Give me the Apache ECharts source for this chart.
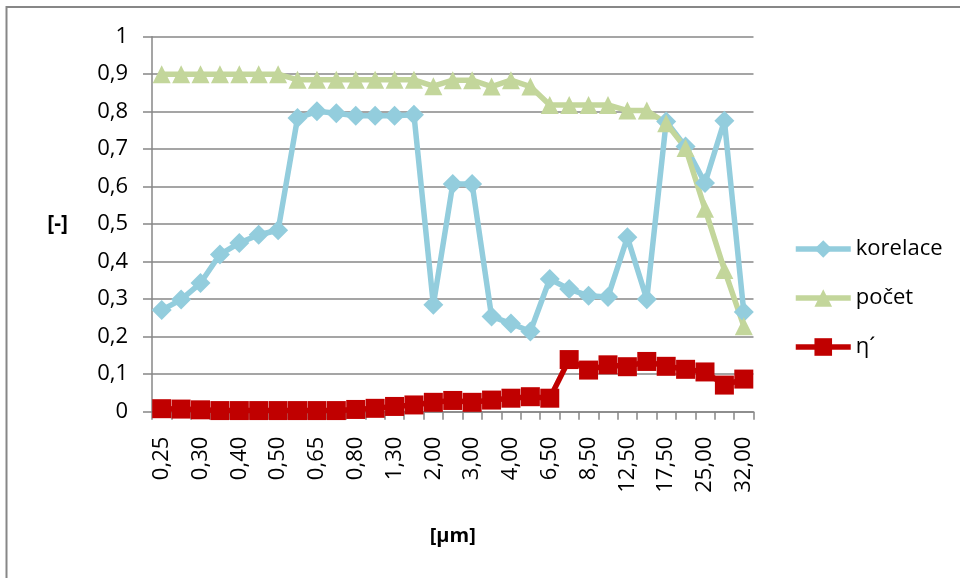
<!DOCTYPE html>
<html>
<head>
<meta charset="utf-8">
<script src="https://cdn.jsdelivr.net/npm/echarts@6/dist/echarts.min.js"></script>
<style>
  html, body { margin: 0; padding: 0; background: #fff; }
  #chart { width: 960px; height: 578px; }
</style>
</head>
<body>
<div id="chart"></div>
<script>
// Particle size channels [µm]
const categories = ['0,25','0,28','0,30','0,35','0,40','0,45','0,50','0,58','0,65','0,70','0,80','1,00','1,30','1,60','2,00','2,50','3,00','3,50','4,00','5,00','6,50','7,50','8,50','10,00','12,50','15,00','17,50','20,00','25,00','30,00','32,00'];

const korelace = [0.271, 0.299, 0.343, 0.419, 0.450, 0.472, 0.484, 0.783, 0.801, 0.796, 0.789, 0.789, 0.789, 0.792, 0.285, 0.607, 0.607, 0.254, 0.235, 0.214, 0.354, 0.327, 0.309, 0.306, 0.465, 0.300, 0.774, 0.707, 0.610, 0.776, 0.266];

const pocet = [0.900, 0.900, 0.900, 0.900, 0.900, 0.900, 0.900, 0.885, 0.885, 0.885, 0.885, 0.885, 0.885, 0.885, 0.868, 0.884, 0.884, 0.867, 0.884, 0.867, 0.818, 0.818, 0.818, 0.818, 0.803, 0.803, 0.769, 0.703, 0.541, 0.378, 0.228];

const eta = [0.008, 0.007, 0.005, 0.003, 0.003, 0.003, 0.003, 0.003, 0.003, 0.003, 0.006, 0.009, 0.014, 0.018, 0.025, 0.030, 0.025, 0.031, 0.036, 0.040, 0.036, 0.139, 0.111, 0.125, 0.120, 0.134, 0.121, 0.113, 0.106, 0.071, 0.087];

const yTicks = { min: 0, max: 1, interval: 0.1 };

const FONT = '"Open Sans", sans-serif';
const GRAY = '#878787';
const LINE_W = 5.5;

const chart = echarts.init(document.getElementById('chart'), null, { renderer: 'canvas' });

function lineSeries(name, data, color, symbol, size) {
  return {
    name: name,
    type: 'line',
    data: data,
    symbol: symbol,
    symbolSize: size,
    showAllSymbol: true,
    lineStyle: { color: color, width: LINE_W },
    itemStyle: { color: color },
    emphasis: { disabled: true }
  };
}

chart.setOption({
  animation: false,
  backgroundColor: '#fff',
  textStyle: { fontFamily: FONT, color: '#000' },
  graphic: [{
    type: 'rect',
    shape: { x: 6.5, y: 7, width: 2000, height: 2000 },
    style: { fill: 'none', stroke: GRAY, lineWidth: 2 },
    silent: true
  }],
  grid: { left: 152, right: 206.5, top: 36.7, bottom: 166.3 },
  legend: {
    orient: 'vertical',
    left: 788,
    top: 233,
    itemWidth: 55,
    itemHeight: 22,
    itemGap: 27,
    lineStyle: { width: LINE_W },
    textStyle: { fontFamily: FONT, fontSize: 22, color: '#000' },
    data: ['korelace', 'počet', 'η´']
  },
  xAxis: {
    type: 'category',
    data: categories,
    boundaryGap: true,
    name: '[µm]',
    nameLocation: 'middle',
    nameGap: 115,
    nameTextStyle: { fontFamily: FONT, fontSize: 20, fontWeight: 'bold', color: '#000' },
    axisLine: { lineStyle: { color: GRAY, width: 1.5 } },
    axisTick: { show: true, interval: 0, length: 8, lineStyle: { color: GRAY, width: 1.5 } },
    axisLabel: { interval: 1, rotate: 90, margin: 25, fontFamily: FONT, fontSize: 22, color: '#000' },
    splitLine: { show: false }
  },
  yAxis: {
    type: 'value',
    min: yTicks.min,
    max: yTicks.max,
    interval: yTicks.interval,
    name: '[-]',
    nameLocation: 'middle',
    nameRotate: 0,
    nameGap: 84,
    nameTextStyle: { fontFamily: FONT, fontSize: 21, fontWeight: 'bold', color: '#000' },
    axisLine: { show: true, lineStyle: { color: GRAY, width: 1.5 } },
    axisTick: { show: true, length: 9, lineStyle: { color: GRAY, width: 1.5 } },
    axisLabel: {
      margin: 24,
      fontFamily: FONT,
      fontSize: 22,
      color: '#000',
      formatter: v => String(Math.round(v * 10) / 10).replace('.', ',')
    },
    splitLine: { show: true, lineStyle: { color: GRAY, width: 1.5 } }
  },
  series: [
    lineSeries('korelace', korelace, '#93CDDD', 'diamond', 20),
    lineSeries('počet', pocet, '#C3D69B', 'triangle', 18),
    lineSeries('η´', eta, '#C00000', 'rect', 19)
  ]
});
</script>
</body>
</html>
